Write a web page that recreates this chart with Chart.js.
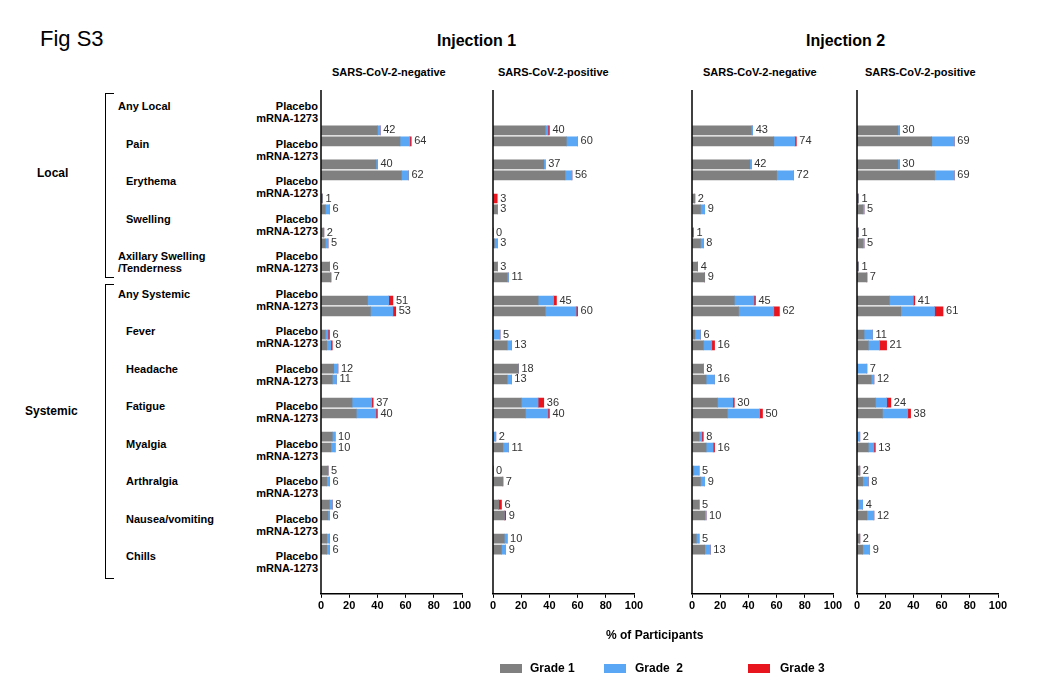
<!DOCTYPE html>
<html>
<head>
<meta charset="utf-8">
<script src="https://cdn.jsdelivr.net/npm/chart.js@4.4.0/dist/chart.umd.min.js"></script>
<style>
body { margin: 0; background: #fff; font-family: "Liberation Sans", Arial, sans-serif; }
#page { position: relative; width: 1042px; height: 697px; }
.t { position: absolute; white-space: nowrap; color: #000; }
.b { font-weight: bold; }
.grp { position: absolute; width: 120px; text-align: right; font-weight: bold; font-size: 11px; left: 198px; }
.ev { position: absolute; font-weight: bold; font-size: 11px; }
.cv { position: absolute; top: 80px; }
.brk { position: absolute; border: 1px solid #000; border-right: none; width: 8px; }
.sw { position: absolute; width: 22px; height: 9px; top: 664px; }
</style>
</head>
<body>
<div id="page">
  <div class="t" style="left:40px;top:26px;font-size:22px;">Fig S3</div>
  <div class="t b" style="left:437px;top:32px;font-size:16px;">Injection 1</div>
  <div class="t b" style="left:806px;top:32px;font-size:16px;">Injection 2</div>
  <div class="t b" style="left:332px;top:66px;font-size:11px;">SARS-CoV-2-negative</div>
  <div class="t b" style="left:498px;top:66px;font-size:11px;">SARS-CoV-2-positive</div>
  <div class="t b" style="left:703px;top:66px;font-size:11px;">SARS-CoV-2-negative</div>
  <div class="t b" style="left:865px;top:66px;font-size:11px;">SARS-CoV-2-positive</div>
  <div class="t b" style="left:37px;top:166px;font-size:12px;">Local</div>
  <div class="t b" style="left:25px;top:404px;font-size:12px;">Systemic</div>
  <div class="brk" style="left:105px;top:93px;height:183px;"></div>
  <div class="brk" style="left:105px;top:284px;height:293px;"></div>
  <div id="labels"></div>
  <canvas class="cv" id="c0" width="181" height="535" style="left:301px"></canvas>
  <canvas class="cv" id="c1" width="181" height="535" style="left:473px"></canvas>
  <canvas class="cv" id="c2" width="181" height="535" style="left:672px"></canvas>
  <canvas class="cv" id="c3" width="181" height="535" style="left:837px"></canvas>
  <div class="t b" style="left:606px;top:628px;font-size:12px;">% of Participants</div>
  <div class="sw" style="left:500px;background:#808080"></div>
  <div class="t b" style="left:530px;top:661px;font-size:12px;">Grade 1</div>
  <div class="sw" style="left:604px;background:#5aa8f5"></div>
  <div class="t b" style="left:635px;top:661px;font-size:12px;">Grade &nbsp;2</div>
  <div class="sw" style="left:748px;background:#e8141e"></div>
  <div class="t b" style="left:780px;top:661px;font-size:12px;">Grade 3</div>
</div>
<script>
const events = ['Any Local', 'Pain', 'Erythema', 'Swelling', 'Axillary Swelling\n/Tenderness', 'Any Systemic',
  'Fever', 'Headache', 'Fatigue', 'Myalgia', 'Arthralgia', 'Nausea/vomiting', 'Chills'];
const groups = ['Placebo', 'mRNA-1273'];

// rows: Placebo, mRNA-1273 for each event
const inj1NegG1 = [40,56, 39,57, 1,3, 2,3, 6,7, 33,35, 3,4, 9,8, 22,25, 8,7, 5,4, 6,5, 4,4];
const inj1NegG2 = [2,7, 1,5, 0,3, 0,2, 0,0, 15,16, 2,3, 3,3, 14,14, 2,3, 0,2, 2,1, 2,2];
const inj1NegG3 = [0,1, 0,0, 0,0, 0,0, 0,0, 3,2, 1,1, 0,0, 1,1, 0,0, 0,0, 0,0, 0,0];
const inj1NegTot = [42,64, 40,62, 1,6, 2,5, 6,7, 51,53, 6,8, 12,11, 37,40, 10,10, 5,6, 8,6, 6,6];

const inj1PosG1 = [37,52, 36,51, 0,3, 0,1, 3,10, 32,37, 0,10, 18,10, 20,23, 0,7, 0,7, 4,8, 8,6];
const inj1PosG2 = [2,8, 1,5, 0,0, 0,2, 0,1, 11,22, 5,3, 0,3, 12,16, 2,4, 0,0, 0,0, 2,3];
const inj1PosG3 = [1,0, 0,0, 3,0, 0,0, 0,0, 2,1, 0,0, 0,0, 4,1, 0,0, 0,0, 2,1, 0,0];
const inj1PosTot = [40,60, 37,56, 3,3, 0,3, 3,11, 45,60, 5,13, 18,13, 36,40, 2,11, 0,7, 6,9, 10,9];

const inj2NegG1 = [42,58, 41,60, 2,6, 1,6, 4,9, 30,33, 2,8, 8,10, 18,25, 5,10, 1,6, 5,9, 3,9];
const inj2NegG2 = [1,15, 1,12, 0,3, 0,2, 0,0, 14,25, 4,6, 0,6, 11,23, 2,5, 4,3, 0,1, 2,4];
const inj2NegG3 = [0,1, 0,0, 0,0, 0,0, 0,0, 1,4, 0,2, 0,0, 1,2, 1,1, 0,0, 0,0, 0,0];
const inj2NegTot = [43,74, 42,72, 2,9, 1,8, 4,9, 45,62, 6,16, 8,16, 30,50, 8,16, 5,9, 5,10, 5,13];

const inj2PosG1 = [29,53, 29,55, 1,4, 1,4, 1,7, 23,31, 5,8, 0,10, 13,18, 0,8, 2,4, 1,7, 2,4];
const inj2PosG2 = [1,16, 1,14, 0,1, 0,1, 0,0, 17,24, 6,8, 7,2, 8,18, 2,4, 0,4, 3,5, 0,5];
const inj2PosG3 = [0,0, 0,0, 0,0, 0,0, 0,0, 1,6, 0,5, 0,0, 3,2, 0,1, 0,0, 0,0, 0,0];
const inj2PosTot = [30,69, 30,69, 1,5, 1,5, 1,7, 41,61, 11,21, 7,12, 24,38, 2,13, 2,8, 4,12, 2,9];

const xTicks = [0, 20, 40, 60, 80, 100];
const gradeColors = ['#808080', '#5aa8f5', '#e8141e'];

const STEP = 3.125; // event spacing in row units (one unit = 12px)
const yPos = k => Math.floor(k / 2) * STEP + (k % 2);

// left side labels
const lab = document.getElementById('labels');
events.forEach((ev, i) => {
  const top = 107 + i * 37.5;
  groups.forEach((g, j) => {
    const d = document.createElement('div');
    d.className = 'grp';
    d.style.top = (top + j * 12 - 7) + 'px';
    d.textContent = g;
    lab.appendChild(d);
  });
  const e = document.createElement('div');
  e.className = 'ev';
  const indent = (ev === 'Any Local' || ev === 'Any Systemic' || ev.startsWith('Axillary')) ? 118 : 126;
  e.style.left = indent + 'px';
  e.style.top = (top - 7) + 'px';
  e.style.lineHeight = '12px';
  e.innerHTML = ev.replace('\n', '<br>');
  lab.appendChild(e);
});

const totalLabels = {
  id: 'totalLabels',
  afterDatasetsDraw(chart, args, opts) {
    const ctx = chart.ctx, xs = chart.scales.x, ys = chart.scales.y;
    ctx.save();
    ctx.font = '11px "Liberation Sans", Arial';
    ctx.fillStyle = '#333';
    ctx.textBaseline = 'middle';
    opts.totals.forEach((t, k) => {
      let end = 0;
      chart.data.datasets.forEach(ds => end += ds.data[k].x);
      ctx.fillText(String(t), xs.getPixelForValue(end) + 3, ys.getPixelForValue(yPos(k)));
    });
    ctx.restore();
  }
};

const leftLine = {
  id: 'leftLine',
  afterDraw(chart) {
    const ctx = chart.ctx, a = chart.chartArea;
    ctx.save();
    ctx.strokeStyle = '#000';
    ctx.lineWidth = 1.5;
    ctx.beginPath();
    ctx.moveTo(a.left, a.top);
    ctx.lineTo(a.left, a.bottom);
    ctx.stroke();
    ctx.restore();
  }
};

function makePanel(id, g1, g2, g3, totals) {
  const ds = [g1, g2, g3].map((arr, n) => ({
    label: 'Grade ' + (n + 1),
    data: arr.map((v, k) => ({ x: v, y: yPos(k) })),
    backgroundColor: gradeColors[n],
    barThickness: 9
  }));
  new Chart(document.getElementById(id), {
    type: 'bar',
    data: { datasets: ds },
    options: {
      indexAxis: 'y',
      responsive: false,
      animation: false,
      layout: { padding: { left: 20, right: 20, top: 10, bottom: 0 } },
      plugins: { legend: { display: false }, tooltip: { enabled: false }, totalLabels: { totals: totals } },
      scales: {
        x: {
          type: 'linear', stacked: true, min: 0, max: 100,
          afterBuildTicks: s => { s.ticks = xTicks.map(v => ({ value: v })); },
          grid: { drawOnChartArea: false, tickLength: 4, color: '#000' },
          border: { color: '#000', width: 1.5 },
          ticks: { color: '#000', font: { size: 11, weight: 'bold', family: '"Liberation Sans", Arial' }, maxRotation: 0, padding: 2 }
        },
        y: { type: 'linear', stacked: true, reverse: true, min: -1.4, max: 40.25, display: false }
      }
    },
    plugins: [totalLabels, leftLine]
  });
}

makePanel('c0', inj1NegG1, inj1NegG2, inj1NegG3, inj1NegTot);
makePanel('c1', inj1PosG1, inj1PosG2, inj1PosG3, inj1PosTot);
makePanel('c2', inj2NegG1, inj2NegG2, inj2NegG3, inj2NegTot);
makePanel('c3', inj2PosG1, inj2PosG2, inj2PosG3, inj2PosTot);
</script>
</body>
</html>
